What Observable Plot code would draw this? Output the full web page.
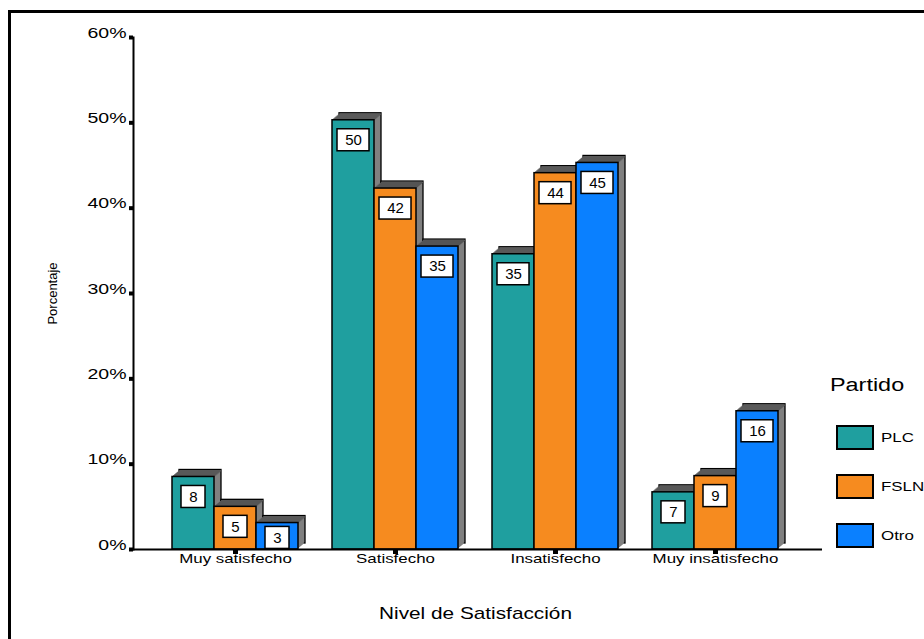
<!DOCTYPE html>
<html><head><meta charset="utf-8">
<script src="https://cdn.jsdelivr.net/npm/d3@7"></script>
<script src="https://cdn.jsdelivr.net/npm/@observablehq/plot@0.6"></script>
<style>
html,body{margin:0;padding:0;background:#fff;}
#wrap{position:relative;width:924px;height:639px;overflow:hidden;font-family:"Liberation Sans",Arial,sans-serif;color:#000;}
#chart{position:absolute;left:0;top:0;}
#border{position:absolute;left:8px;top:10px;width:2000px;height:2000px;border-left:3px solid #000;border-top:3px solid #000;pointer-events:none;}
.lt{position:absolute;white-space:nowrap;line-height:1;transform:scaleX(1.3);transform-origin:0 50%;}
.lb{position:absolute;box-sizing:border-box;width:38px;height:25px;border:2px solid #000;}
</style></head>
<body><div id="wrap"><div id="chart"></div><div id="legend"></div><div id="border"></div></div>
<script>
const categories = ["Muy satisfecho", "Satisfecho", "Insatisfecho", "Muy insatisfecho"];
const parties = ["PLC", "FSLN", "Otro"];
const colors = ["#1F9F9F", "#F68B1F", "#0A80FF"];
const plcValues = [8.5, 50.3, 34.6, 6.7];
const fslnValues = [5.0, 42.3, 44.1, 8.6];
const otroValues = [3.1, 35.5, 45.3, 16.2];
const plcLabels = [8, 50, 35, 7];
const fslnLabels = [5, 42, 44, 9];
const otroLabels = [3, 35, 45, 16];
const yTicks = [0, 10, 20, 30, 40, 50, 60];
const yLabel = "Porcentaje";
const xLabel = "Nivel de Satisfacción";
const legendTitle = "Partido";

const W = 924, H = 639, ML = 133, MR = 107, MT = 37, MB = 90;
const pInner = 0.2125, pOuter = 0.24375;
const xScale = Plot.scale({x: {type: "band", domain: categories, range: [ML, W - MR], paddingInner: pInner, paddingOuter: pOuter}});
const bw = xScale.bandwidth, third = bw / 3;
const DX = 7, DY = 6, STEPS = 6;

const allValues = [plcValues, fslnValues, otroValues];
const allLabels = [plcLabels, fslnLabels, otroLabels];
const series = parties.map((p, i) => ({
  party: p, color: colors[i],
  rows: categories.map((c, j) => ({cat: c, v: allValues[i][j], label: allLabels[i][j]}))
}));

const marks = [];
series.forEach((s, i) => {
  const L = i * third, R = bw - (i + 1) * third;
  marks.push(Plot.barY(s.rows, {x: "cat", y: "v", fill: "#808080", stroke: "#000", strokeWidth: 1.3, dx: DX, dy: -DY, insetLeft: L, insetRight: R, insetTop: -1}));
  for (let k = 1; k < STEPS; k++)
    marks.push(Plot.barY(s.rows, {x: "cat", y: "v", fill: "#808080", dx: k * DX / STEPS, dy: -k * DY / STEPS, insetLeft: L, insetRight: R}));
  for (let k = 1; k <= STEPS; k++)
    marks.push(Plot.barY(s.rows, {x: "cat", y1: "v", y2: "v", fill: "#555555", dx: k * DX / STEPS, dy: -k * DY / STEPS, insetLeft: L, insetRight: R, insetTop: -0.3, insetBottom: -1}));
  marks.push(Plot.barY(s.rows, {x: "cat", y: "v", fill: s.color, stroke: "#000", strokeWidth: 1.5, insetLeft: L, insetRight: R}));
});

const lv = r => Math.max(r.v, 3.7);
series.forEach((s, i) => {
  [1, 2].forEach(nd => {
    const rows = s.rows.filter(r => String(r.label).length === nd);
    const w = nd === 1 ? 24 : 32;
    const L = i * third + (third - w) / 2, R = bw - i * third - (third + w) / 2;
    marks.push(Plot.barY(rows, {x: "cat", y1: lv, y2: lv, fill: "#fff", stroke: "#000", strokeWidth: 1.5, insetLeft: L, insetRight: R, insetTop: 9, insetBottom: -31}));
  });
  marks.push(Plot.text(s.rows, {x: "cat", y: lv, text: "label", dx: (i - 1) * third, dy: 20, fontSize: 15, fill: "#000"}));
});

const plot = Plot.plot({
  width: W, height: H, marginLeft: ML, marginRight: MR, marginTop: MT, marginBottom: MB,
  style: {fontFamily: "'Liberation Sans', Arial, sans-serif", background: "transparent", color: "#000"},
  x: {domain: categories, paddingInner: pInner, paddingOuter: pOuter},
  y: {domain: [0, 60]},
  marks: [
    ...marks,
    Plot.frame({anchor: "left", strokeWidth: 2}),
    Plot.ruleY([0], {strokeWidth: 2, insetRight: -5}),
    Plot.axisY(yTicks, {tickSize: 4, strokeWidth: 4, tickPadding: 3, tickFormat: d => d + "%", fontSize: 15, label: null}),
    Plot.axisX({tickSize: 5, strokeWidth: 5, tickPadding: 8, fontSize: 13, label: null}),
    Plot.text([yLabel], {frameAnchor: "left", dx: -81, rotate: -90, fontSize: 13, textAnchor: "middle"}),
    Plot.text([xLabel], {frameAnchor: "bottom", dy: 69, fontSize: 16})
  ]
});
document.getElementById("chart").appendChild(plot);

function stretch(nodes, s) {
  nodes.forEach(n => {
    const x = +n.getAttribute("x") || 0, y = +n.getAttribute("y") || 0;
    const t = n.getAttribute("transform") || "";
    n.setAttribute("transform", `${t} translate(${x},${y}) scale(${s},1)`);
    n.removeAttribute("x"); n.removeAttribute("y");
  });
}
const texts = Array.from(plot.querySelectorAll("text"));
stretch(Array.from(plot.querySelectorAll('g[aria-label="y-axis tick label"] text, g[aria-label="x-axis tick label"] text')), 1.3);
stretch(texts.filter(t => t.textContent === xLabel), 1.3);

const leg = document.getElementById("legend");
const t = document.createElement("div");
t.className = "lt"; t.textContent = legendTitle;
t.style.left = "830px"; t.style.top = "376px"; t.style.fontSize = "18px";
leg.appendChild(t);
parties.forEach((p, i) => {
  const top = 425 + i * 49;
  const b = document.createElement("div");
  b.className = "lb"; b.style.left = "836px"; b.style.top = top + "px"; b.style.background = colors[i];
  leg.appendChild(b);
  const l = document.createElement("div");
  l.className = "lt"; l.textContent = p;
  l.style.left = "881px"; l.style.top = (top + 6) + "px"; l.style.fontSize = "13px";
  leg.appendChild(l);
});
</script>
</body></html>
